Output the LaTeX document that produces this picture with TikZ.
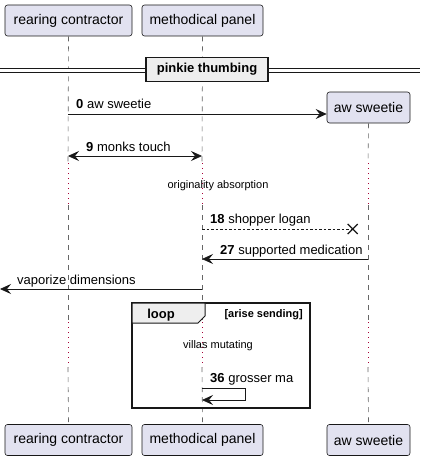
\documentclass[tikz,border=0pt]{standalone}
\usepackage{fontspec}
\setmainfont{Liberation Sans}
\usetikzlibrary{arrows.meta,calc}
\definecolor{partfill}{HTML}{E2E2F0}
\definecolor{partdraw}{HTML}{181818}
\definecolor{delayred}{HTML}{A80036}
\definecolor{grpfill}{HTML}{EEEEEE}
\tikzset{
  part/.style={draw=partdraw, fill=partfill, rounded corners=2.5pt, minimum height=31pt, inner sep=0pt, font=\fontsize{14pt}{16pt}\selectfont, line width=0.6pt},
  life/.style={draw=gray!80!black, dash pattern=on 5pt off 5pt, line width=0.6pt},
  delayline/.style={draw=delayred, dash pattern=on 1pt off 4pt, line width=1pt},
  msg/.style={draw=partdraw, line width=0.8pt, -{Stealth[length=11pt,width=10pt,inset=4pt]}},
  msgtxt/.style={font=\fontsize{13pt}{15pt}\selectfont, inner sep=0pt, anchor=base west},
  delaytxt/.style={font=\fontsize{11pt}{13pt}\selectfont, inner sep=0pt},
}
\begin{document}
\begin{tikzpicture}[x=1pt,y=-1pt]
\useasboundingbox (0,0) rectangle (420,460);
% participants
\node[part, minimum width=127pt] (rt) at (68.5,20.5) {rearing contractor};
\node[part, minimum width=121pt] (mt) at (202.5,20.5) {methodical panel};
\node[part, minimum width=127pt] (rb) at (68.5,440) {rearing contractor};
\node[part, minimum width=121pt] (mb) at (202.5,440) {methodical panel};
\node[part, minimum width=83pt] (ac) at (368.5,107.5) {aw sweetie};
\node[part, minimum width=83pt] (ab) at (368.5,440) {aw sweetie};
% lifeline coordinates
\foreach \n/\x in {r/68,m/202,a/368}{
  \coordinate (\n1) at (\x,163);
  \coordinate (\n2) at (\x,205);
  \coordinate (\n3) at (\x,322);
  \coordinate (\n4) at (\x,367);
}
\draw[life] (rt.south) -- (r1); \draw[life] (r2) -- (r3); \draw[life] (r4) -- (rb.north);
\draw[life] (mt.south) -- (m1); \draw[life] (m2) -- (m3); \draw[life] (m4) -- (mb.north);
\draw[life] (ac.south) -- (a1); \draw[life] (a2) -- (a3); \draw[life] (a4) -- (ab.north);
\draw[delayline] (r1) -- (r2); \draw[delayline] (m1) -- (m2); \draw[delayline] (a1) -- (a2);
\draw[delayline] (r3) -- (r4); \draw[delayline] (m3) -- (m4); \draw[delayline] (a3) -- (a4);
% separator
\fill[white] (0,68.3) rectangle (420,72);
\draw[line width=0.8pt, partdraw] (0,68.3) -- (420,68.3) (0,72) -- (420,72);
\node[draw=partdraw, fill=grpfill, line width=1.6pt, minimum width=122pt, minimum height=24pt, inner sep=0pt, font=\bfseries\fontsize{13pt}{15pt}\selectfont] (sep) at (207,69.5) {pinkie thumbing};
% message 0
\coordinate (m0s) at (68,114);
\draw[msg] (m0s) -- (ac.west |- m0s);
\node[msgtxt] (t0) at (76,108) {\textbf{0} aw sweetie};
% message 9
\coordinate (m9a) at (68,156);
\coordinate (m9b) at (202,156);
\draw[msg, {Stealth[length=11pt,width=10pt,inset=4pt]}-{Stealth[length=11pt,width=10pt,inset=4pt]}] (m9a) -- (m9b);
\node[msgtxt] (t9) at (86,151) {\textbf{9} monks touch};
% delay text
\node[delaytxt] (d1) at (218,186) {originality absorption};
% message 18
\coordinate (m18a) at (202,229);
\coordinate (m18b) at (352.7,229);
\draw[partdraw, line width=0.8pt, dash pattern=on 2.5pt off 2pt] (m18a) -- (m18b);
\draw[partdraw, line width=1.3pt] ($(m18b)+(-5,-5)$) -- ($(m18b)+(5,5)$) ($(m18b)+(-5,5)$) -- ($(m18b)+(5,-5)$);
\node[msgtxt] (t18) at (210,223) {\textbf{18} shopper logan};
% message 27
\coordinate (m27a) at (368,259);
\coordinate (m27b) at (202,259);
\draw[msg] (m27a) -- (m27b);
\node[msgtxt] (t27) at (220,254) {\textbf{27} supported medication};
% message vaporize
\coordinate (mva) at (202,289);
\coordinate (mvb) at (0,289);
\draw[msg] (mva) -- (mvb);
\node[msgtxt] (tv) at (17,284) {vaporize dimensions};
% loop
\draw[partdraw, line width=1.4pt] (132,303) rectangle (310,408);
\draw[partdraw, line width=1pt, fill=grpfill] (132,303) -- (205,303) -- (205,316) -- (198,323) -- (132,323) -- cycle;
\node[font=\bfseries\fontsize{13pt}{15pt}\selectfont, inner sep=0pt, anchor=base] (lp) at (161,318) {loop};
\node[font=\bfseries\fontsize{11pt}{13pt}\selectfont, inner sep=0pt, anchor=base east] (gd) at (303,317) {[arise sending]};
\node[delaytxt] (d2) at (218,346) {villas mutating};
% self message
\coordinate (s1) at (202,388);
\coordinate (s2) at (245,388);
\coordinate (s3) at (245,400);
\coordinate (s4) at (202,400);
\draw[msg] (s1) -- (s2) -- (s3) -- (s4);
\node[msgtxt] (t36) at (210,382) {\textbf{36} grosser ma};
\end{tikzpicture}
\end{document}
